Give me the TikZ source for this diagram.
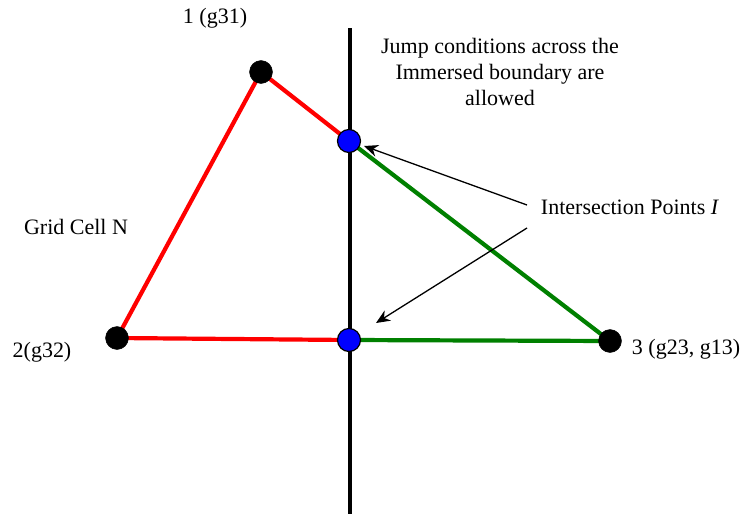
\documentclass[tikz,border=0pt]{standalone}
\usepackage{fontspec}
\setmainfont{Liberation Serif}
\usetikzlibrary{arrows.meta,backgrounds}
\definecolor{cellgreen}{RGB}{0,128,0}
\begin{document}
\begin{tikzpicture}[>=stealth,x=1pt,y=-1pt,font=\fontsize{22}{26}\selectfont]
\tikzset{
  vtx/.style={circle,fill=black,draw=black,inner sep=0pt,minimum size=23},
  ipt/.style={circle,fill=blue,draw=black,line width=1.2,inner sep=0pt,minimum size=23},
  edge/.style={line width=4.2}
}
\useasboundingbox (0,0) rectangle (740,514);

\node[vtx] (v1) at (261,72) {};
\node[vtx] (v2) at (117,338) {};
\node[vtx] (v3) at (610,341) {};
\node[ipt] (p1) at (349,141) {};
\node[ipt] (p2) at (349,340) {};

\begin{scope}[on background layer]
\coordinate (btop) at (350,28);
\coordinate (bbot) at (350,514);
\draw[line width=4] (btop) -- (bbot);
\draw[edge,red] (v1.center) -- (v2.center);
\draw[edge,red] (v1.center) -- (p1.center);
\draw[edge,red] (v2.center) -- (p2.center);
\draw[edge,cellgreen] (p1.center) -- (v3.center);
\draw[edge,cellgreen] (p2.center) -- (v3.center);
\end{scope}

\node (l1) at (215,18) {1 (g31)};
\node (l2) at (42,352) {2(g32)};
\node (l3) at (686,349) {3 (g23, g13)};
\node (cell) at (76,227) {Grid Cell N};
\node[align=center] (jump) at (500,72) {Jump conditions across the\\Immersed boundary are\\allowed};
\node (inter) at (630,207) {Intersection Points \textit{I}};

\coordinate (a1) at (527,205);
\coordinate (a2) at (527,228);
\coordinate (e1) at (364,146);
\coordinate (e2) at (376,323);
\draw[->,line width=1.3,>={Stealth[length=14,width=12]}] (a1) -- (e1);
\draw[->,line width=1.3,>={Stealth[length=14,width=12]}] (a2) -- (e2);
\end{tikzpicture}
\end{document}
